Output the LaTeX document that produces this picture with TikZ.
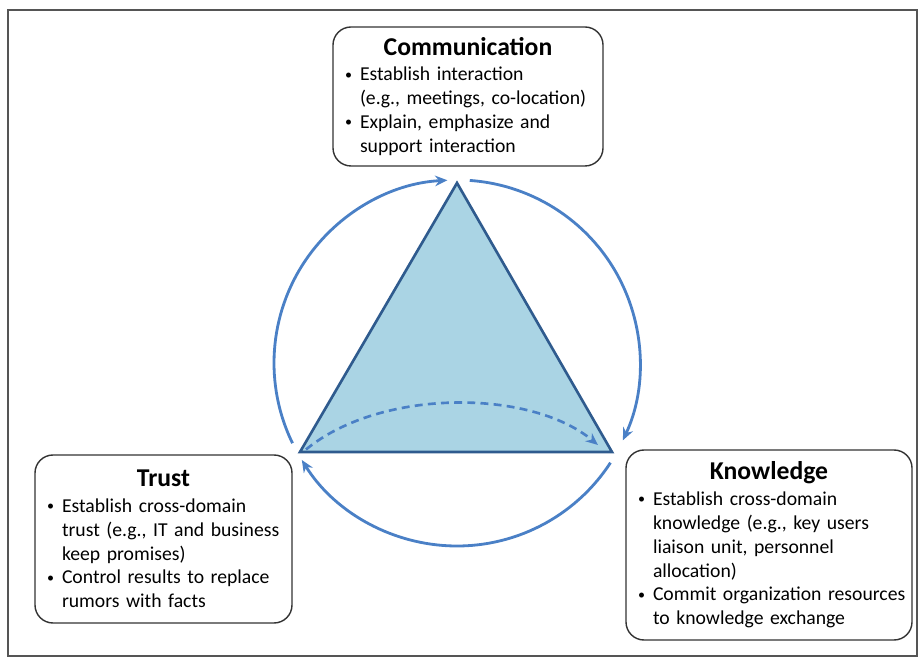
\documentclass[tikz,border=0pt]{standalone}
\usepackage{fontspec}
\setmainfont{Carlito}
\usepackage{xcolor}
\usetikzlibrary{arrows.meta,positioning,calc}

\definecolor{cyclearc}{HTML}{4A80C6}
\definecolor{trifill}{HTML}{AAD4E4}
\definecolor{triedge}{HTML}{2F5B8E}
\definecolor{framegray}{HTML}{555555}

\newcommand{\bul}[1]{\noindent\mbox{\makebox[0.3cm][l]{\raisebox{0.2ex}{\fontsize{8}{8}\selectfont\textbullet}}#1}}
\newcommand{\ind}[1]{\mbox{\hspace*{0.3cm}#1}}
\newcommand{\boxtitle}[1]{\centerline{\fontsize{14.6}{16}\selectfont\bfseries #1}\vspace{1pt}}

\begin{document}
\begin{tikzpicture}[
  infobox/.style={draw=black!80, line width=0.8pt, rounded corners=0.36cm,
    align=left, inner xsep=0.24cm, font=\fontsize{11.2}{13.6}\selectfont},
  cyclearrow/.style={cyclearc, line width=1.6pt, -{Stealth[length=7pt,width=6pt]}}
]
\useasboundingbox (0,0) rectangle (18.36,13.22);
% Frame
\draw[framegray, line width=1.2pt] (0.16,0.10) rectangle (18.34,13.02);

% Triangle
\coordinate (ctr) at (9.14,5.96);
\coordinate (apex) at (9.14,9.56);
\coordinate (bl) at (6.0,4.18);
\coordinate (br) at (12.24,4.18);
\draw[triedge, fill=trifill, line width=1.5pt] (apex) -- (bl) -- (br) -- cycle;

% Cycle arcs
\draw[cyclearrow] ($(ctr)+(206:3.66)$) arc[start angle=206, end angle=93, radius=3.66];
\draw[cyclearrow] ($(ctr)+(86:3.66)$) arc[start angle=86, end angle=-25, radius=3.66];
\draw[cyclearrow] ($(ctr)+(-33:3.66)$) arc[start angle=-33, end angle=-148, radius=3.66];

% Inner dashed arrow
\draw[cyclearc, line width=1.5pt, dash pattern=on 4.5pt off 3pt, -{Stealth[length=7pt,width=6pt]}]
  ($(bl)+(0.12,0.05)$) .. controls (7.6,5.45) and (10.6,5.45) .. ($(br)+(-0.28,0.14)$);

% Boxes
\node[infobox, text width=4.92cm, minimum height=2.78cm] (comm) at (9.36,11.29) {%
  \boxtitle{Communication}
  \bul{Establish interaction}\\
  \ind{(e.g., meetings, co-location)}\\
  \bul{Explain, emphasize and}\\
  \ind{support interaction}};
\node[infobox, text width=4.66cm, minimum height=3.36cm] (trust) at (3.27,2.44) {%
  \boxtitle{Trust}
  \bul{Establish cross-domain}\\
  \ind{trust (e.g., IT and business}\\
  \ind{keep promises)}\\
  \bul{Control results to replace}\\
  \ind{rumors with facts}};
\node[infobox, text width=5.24cm, minimum height=3.8cm] (know) at (15.38,2.32) {%
  \boxtitle{Knowledge}
  \bul{Establish cross-domain}\\
  \ind{knowledge (e.g., key users}\\
  \ind{liaison unit, personnel}\\
  \ind{allocation)}\\
  \bul{Commit organization resources}\\
  \ind{to knowledge exchange}};
\end{tikzpicture}
\end{document}
